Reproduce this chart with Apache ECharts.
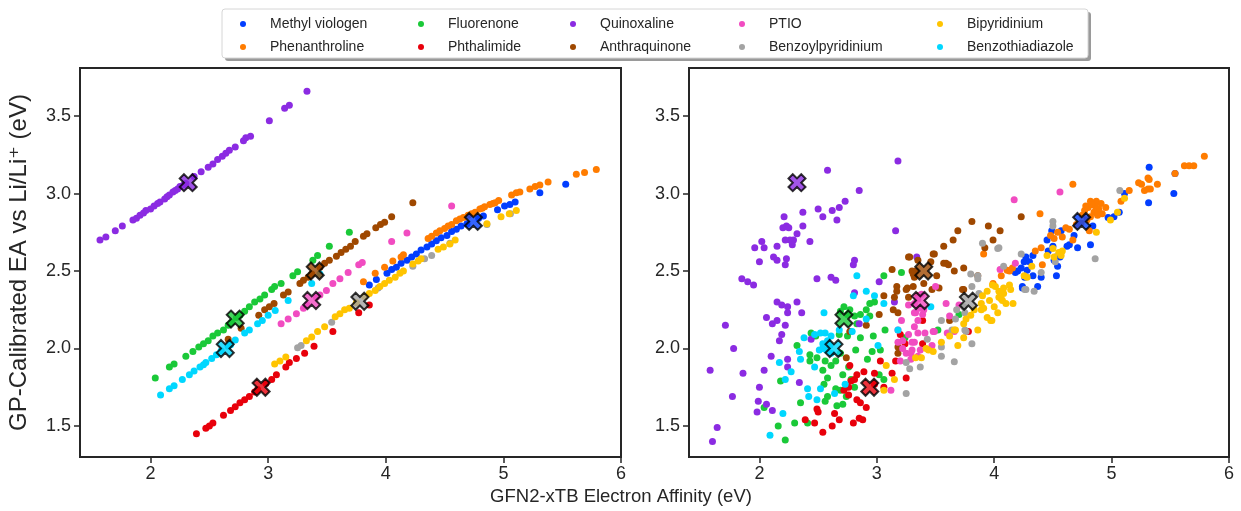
<!DOCTYPE html>
<html>
<head>
<meta charset="utf-8">
<script src="https://cdn.jsdelivr.net/npm/echarts@6/dist/echarts.min.js"></script>
<style>
  html, body { margin: 0; padding: 0; background: #fff; }
  #chart { width: 1241px; height: 511px; }
</style>
</head>
<body>
<div id="chart"></div>
<script>
// class names, legend order and colours (seaborn "bright")
const classNames = ['Methyl viologen', 'Phenanthroline', 'Fluorenone', 'Phthalimide', 'Quinoxaline',
  'Anthraquinone', 'PTIO', 'Benzoylpyridinium', 'Bipyridinium', 'Benzothiadiazole'];
const classColors = ['#023eff', '#ff7c00', '#1ac938', '#e8000b', '#8b2be2',
  '#9f4800', '#f14cc1', '#a3a3a3', '#ffc400', '#00d7ff'];

const xTicks = [2, 3, 4, 5, 6];
const yTicks = [1.5, 2.0, 2.5, 3.0, 3.5];

// ---- left panel: calibrated EA per class  [GFN2 EA, calibrated EA]
const methylFit = [[3.86,2.41],[3.92,2.445],[4.01,2.485],[4.05,2.51],[4.09,2.525],[4.13,2.55],[4.18,2.57],[4.22,2.59],[4.26,2.61],[4.30,2.635],[4.35,2.655],[4.39,2.675],[4.43,2.695],[4.47,2.715],[4.52,2.73],[4.56,2.755],[4.60,2.77],[4.64,2.79],[4.69,2.805],[4.79,2.84],[4.83,2.855],[4.95,2.895],[5.01,2.92],[5.055,2.93],[5.10,2.945],[5.31,3.005],[5.53,3.06]];
const phenFit = [[3.81,2.43],[3.91,2.485],[3.99,2.525],[4.06,2.565],[4.13,2.59],[4.15,2.605],[4.36,2.71],[4.39,2.725],[4.43,2.745],[4.46,2.76],[4.50,2.775],[4.53,2.79],[4.56,2.80],[4.60,2.825],[4.63,2.835],[4.66,2.845],[4.70,2.86],[4.73,2.87],[4.76,2.88],[4.80,2.90],[4.82,2.905],[4.84,2.915],[4.885,2.93],[4.91,2.935],[4.93,2.94],[4.96,2.955],[5.07,2.99],[5.11,3.005],[5.14,3.01],[5.225,3.03],[5.27,3.045],[5.31,3.055],[5.38,3.075],[5.62,3.125],[5.69,3.135],[5.79,3.155]];
const fluorFit = [[2.04,1.81],[2.16,1.88],[2.20,1.90],[2.30,1.95],[2.36,1.98],[2.41,2.01],[2.45,2.03],[2.49,2.05],[2.53,2.08],[2.57,2.10],[2.62,2.12],[2.66,2.15],[2.69,2.17],[2.73,2.20],[2.76,2.215],[2.80,2.24],[2.84,2.27],[2.885,2.30],[2.93,2.32],[2.97,2.345],[3.03,2.38],[3.055,2.40],[3.11,2.42],[3.21,2.47],[3.25,2.495],[3.38,2.57],[3.42,2.60],[3.52,2.66],[3.69,2.75]];
const phthFit = [[2.39,1.45],[2.47,1.485],[2.50,1.50],[2.53,1.52],[2.62,1.57],[2.68,1.60],[2.72,1.625],[2.76,1.65],[2.80,1.67],[2.84,1.69],[2.885,1.72],[2.91,1.735],[2.98,1.775],[3.03,1.80],[3.07,1.83],[3.15,1.88],[3.18,1.91],[3.24,1.935],[3.31,1.97],[3.39,2.015],[3.55,2.11],[3.77,2.23],[3.86,2.28]];
const quinoxFit = [[1.57,2.70],[1.62,2.72],[1.70,2.76],[1.76,2.79],[1.85,2.83],[1.88,2.84],[1.91,2.86],[1.94,2.875],[1.96,2.89],[2.00,2.90],[2.03,2.92],[2.06,2.935],[2.08,2.945],[2.12,2.965],[2.14,2.98],[2.16,2.99],[2.19,3.01],[2.21,3.02],[2.23,3.03],[2.25,3.045],[2.28,3.055],[2.30,3.065],[2.37,3.11],[2.43,3.14],[2.49,3.17],[2.53,3.19],[2.57,3.22],[2.61,3.24],[2.64,3.26],[2.67,3.28],[2.72,3.30],[2.79,3.34],[2.81,3.36],[2.85,3.37],[3.01,3.47],[3.14,3.55],[3.18,3.57],[3.33,3.66]];
const anthFit = [[2.66,2.06],[2.77,2.13],[2.92,2.215],[2.97,2.25],[3.01,2.27],[3.05,2.29],[3.13,2.345],[3.17,2.365],[3.27,2.42],[3.30,2.44],[3.34,2.46],[3.37,2.48],[3.44,2.525],[3.48,2.55],[3.52,2.57],[3.58,2.595],[3.62,2.62],[3.66,2.64],[3.70,2.66],[3.74,2.69],[3.81,2.725],[3.84,2.74],[3.915,2.78],[3.955,2.80],[3.99,2.815],[4.05,2.85],[4.23,2.94]];
const ptioFit = [[3.11,2.16],[3.17,2.19],[3.24,2.225],[3.30,2.26],[3.33,2.28],[3.41,2.33],[3.44,2.345],[3.495,2.375],[3.55,2.42],[3.61,2.45],[3.68,2.49],[3.77,2.54],[3.80,2.555],[4.05,2.69],[4.18,2.745],[4.56,2.92]];
const benzFit = [[3.25,2.005],[3.28,2.02],[3.54,2.17],[3.935,2.39],[4.23,2.53],[4.33,2.58],[4.39,2.60],[4.545,2.68],[4.86,2.80],[5.06,2.87]];
const bipyFit = [[3.055,1.90],[3.10,1.92],[3.15,1.945],[3.325,2.05],[3.37,2.075],[3.42,2.11],[3.48,2.14],[3.57,2.205],[3.61,2.225],[3.65,2.25],[3.69,2.26],[3.75,2.295],[3.82,2.335],[3.86,2.355],[3.91,2.375],[3.95,2.40],[3.99,2.42],[4.03,2.44],[4.08,2.46],[4.12,2.485],[4.15,2.50],[4.23,2.545],[4.275,2.565],[4.30,2.58],[4.445,2.64],[4.49,2.655],[4.545,2.675],[4.59,2.70],[4.86,2.805],[4.98,2.85],[5.05,2.87],[5.11,2.89]];
const thiadFit = [[2.085,1.70],[2.16,1.74],[2.20,1.76],[2.27,1.80],[2.33,1.83],[2.37,1.855],[2.42,1.88],[2.45,1.895],[2.47,1.91],[2.52,1.935],[2.56,1.96],[2.60,1.985],[2.66,2.015],[2.68,2.025],[2.72,2.055],[2.80,2.10],[2.84,2.12],[2.91,2.16],[2.95,2.18],[3.00,2.215],[3.06,2.245],[3.17,2.31],[3.37,2.42],[3.44,2.48]];

// ---- right panel: reference EA per class
const methylObs = [[5.32,3.17],[5.54,3.13],[5.53,3.00],[5.315,2.94],[5.11,3.00],[5.02,2.85],[4.97,2.845],[5.065,2.88],[4.84,2.79],[4.82,2.67],[4.71,2.65],[4.68,2.73],[4.64,2.67],[4.57,2.76],[4.49,2.76],[4.45,2.70],[4.50,2.66],[4.46,2.63],[4.62,2.66],[4.56,2.59],[4.525,2.59],[4.54,2.53],[4.51,2.57],[4.53,2.47],[4.40,2.46],[4.37,2.40],[4.24,2.40],[4.23,2.52],[4.255,2.56],[4.20,2.50],[4.18,2.49],[4.30,2.56],[4.33,2.60],[4.28,2.505],[4.33,2.47],[4.26,2.46],[4.27,2.59],[4.24,2.39]];
const phenObs = [[5.79,3.24],[5.62,3.18],[5.66,3.18],[5.70,3.18],[5.54,3.13],[5.23,3.07],[5.255,3.06],[5.31,3.10],[5.32,3.09],[5.31,3.03],[5.28,3.02],[5.33,3.03],[5.39,3.06],[5.15,3.02],[5.08,2.95],[4.67,3.06],[4.39,2.87],[4.78,2.92],[4.82,2.95],[4.87,2.95],[4.91,2.935],[4.95,2.91],[4.77,2.89],[4.85,2.88],[4.92,2.87],[4.82,2.85],[4.74,2.81],[4.70,2.80],[4.64,2.77],[4.61,2.78],[4.54,2.75],[4.48,2.73],[4.51,2.71],[4.67,2.70],[4.58,2.72],[4.81,2.76],[4.40,2.65],[4.35,2.63],[4.155,2.52],[4.11,2.505],[4.06,2.47],[3.91,2.61],[3.99,2.42],[4.41,2.54],[4.13,2.50],[4.80,2.91],[4.86,2.92],[4.89,2.90],[4.83,2.93],[4.75,2.86],[4.79,2.83],[4.88,2.86]];
const fluorObs = [[2.72,2.27],[2.69,2.24],[2.77,2.25],[2.75,2.22],[2.81,2.21],[2.86,2.22],[2.94,2.29],[2.98,2.30],[2.91,2.25],[2.94,2.21],[2.83,2.16],[2.44,2.10],[2.48,2.08],[2.68,2.09],[2.75,2.08],[2.86,2.07],[2.97,2.08],[3.07,2.12],[2.32,2.02],[2.43,1.96],[2.43,1.92],[2.49,1.94],[2.56,1.92],[2.61,1.89],[2.65,1.92],[2.69,1.97],[2.82,1.99],[3.03,1.99],[2.54,1.86],[2.58,1.81],[2.71,1.83],[2.76,1.88],[2.55,1.77],[2.65,1.74],[2.69,1.73],[2.74,1.69],[2.58,1.69],[2.56,1.66],[2.66,1.63],[2.71,1.64],[2.35,1.65],[2.04,1.62],[2.18,1.79],[2.16,1.50],[2.22,1.41],[2.30,1.52],[2.41,1.52],[2.96,1.98],[2.92,1.93],[2.78,1.80],[2.81,1.75],[3.02,1.83],[3.06,1.80],[3.06,2.47],[3.21,2.49],[3.70,2.22],[3.52,2.12],[3.24,2.07]];
const phthObs = [[2.91,1.62],[2.83,1.67],[2.86,1.65],[2.78,1.79],[2.83,1.83],[2.89,1.85],[2.98,1.84],[3.03,1.92],[3.06,1.75],[2.76,1.75],[2.77,1.89],[2.81,1.80],[2.76,1.70],[2.72,1.73],[2.64,1.58],[2.68,1.54],[2.62,1.50],[2.54,1.46],[2.49,1.61],[2.50,1.59],[2.39,1.54],[2.47,1.52],[2.80,1.52],[2.85,1.55],[2.88,1.54],[3.20,2.09],[3.24,2.03],[3.25,1.81],[3.16,1.92],[3.39,2.03],[2.98,1.77],[3.13,1.84],[3.39,2.18],[3.78,2.11]];
const quinoxObs = [[3.18,3.21],[2.58,3.15],[2.85,3.02],[2.73,2.95],[2.68,2.91],[2.62,2.89],[2.50,2.90],[2.37,2.88],[2.54,2.85],[2.66,2.83],[2.21,2.85],[2.20,2.78],[2.23,2.79],[2.25,2.78],[2.37,2.79],[2.32,2.74],[2.29,2.70],[2.26,2.70],[2.22,2.70],[2.28,2.67],[2.43,2.69],[2.15,2.66],[2.02,2.69],[1.96,2.65],[2.04,2.65],[2.00,2.56],[2.12,2.59],[2.15,2.57],[2.23,2.58],[2.22,2.54],[3.16,2.76],[2.81,2.57],[2.80,2.54],[1.85,2.45],[1.90,2.43],[1.95,2.41],[2.49,2.45],[2.61,2.46],[2.65,2.44],[3.02,2.43],[3.34,2.59],[2.15,2.30],[2.19,2.28],[2.24,2.27],[2.32,2.30],[2.81,2.36],[3.15,2.30],[2.24,2.23],[2.36,2.23],[2.06,2.20],[2.11,2.16],[2.15,2.18],[2.22,2.15],[2.19,2.09],[2.17,2.05],[1.71,2.15],[1.78,2.00],[2.10,1.95],[2.24,1.93],[2.24,1.88],[2.04,1.86],[1.86,1.84],[1.58,1.86],[2.34,1.78],[2.00,1.75],[1.77,1.69],[1.99,1.66],[2.06,1.64],[2.11,1.60],[1.98,1.59],[1.64,1.49],[1.60,1.40],[2.85,2.16],[2.44,2.06]];
const anthObs = [[3.28,2.59],[3.35,2.57],[3.46,2.56],[3.49,2.61],[3.57,2.66],[3.65,2.70],[3.69,2.76],[3.57,2.55],[3.61,2.54],[3.66,2.50],[3.51,2.47],[3.53,2.39],[3.40,2.42],[3.31,2.40],[3.32,2.46],[3.33,2.50],[3.30,2.50],[3.26,2.39],[3.17,2.40],[3.17,2.37],[3.13,2.51],[3.06,2.34],[3.27,2.33],[3.35,2.34],[3.15,2.33],[3.14,2.25],[3.18,2.23],[3.02,2.22],[2.91,2.15],[2.77,2.11],[2.74,1.94],[3.18,1.97],[3.18,2.01],[3.81,2.82],[3.95,2.79],[4.05,2.76],[3.99,2.70],[3.92,2.65],[4.23,2.85],[3.74,2.52],[3.86,2.47],[3.74,2.38],[3.48,2.61],[3.27,2.59],[3.31,2.48],[3.25,2.38],[3.47,2.38],[3.59,2.55],[3.73,2.38],[3.62,2.18]];
const ptioObs = [[3.32,2.29],[3.32,2.23],[3.40,2.25],[3.39,2.22],[3.35,2.18],[3.32,2.14],[3.35,2.10],[3.41,2.10],[3.49,2.11],[3.60,2.10],[3.59,2.29],[3.62,2.21],[3.66,2.11],[3.18,2.04],[3.22,2.05],[3.25,1.97],[3.30,1.99],[3.29,1.93],[3.35,1.95],[3.37,1.99],[3.47,2.02],[3.20,1.92],[3.12,1.73],[3.18,2.12],[3.32,2.04],[3.27,2.28],[3.33,2.23],[3.21,2.18],[3.27,2.09],[3.30,2.04],[3.22,2.00],[3.29,1.97],[3.48,2.11],[3.50,2.40],[4.05,2.51],[4.18,2.55],[4.17,2.96],[4.56,3.01],[3.70,2.28],[3.36,2.26],[3.38,2.35],[3.35,2.32]];
const benzObs = [[3.90,2.68],[4.03,2.645],[3.80,2.48],[3.86,2.47],[3.86,2.45],[3.81,2.40],[3.87,2.355],[3.74,2.27],[3.68,2.25],[3.67,2.19],[3.55,2.18],[3.64,2.12],[3.75,2.12],[3.43,2.06],[3.55,2.01],[3.55,1.95],[3.81,2.03],[3.66,1.915],[3.37,1.88],[3.28,1.87],[3.25,1.91],[3.25,1.71],[4.08,2.53],[4.34,2.37],[4.27,2.38],[4.86,2.58],[4.52,2.56],[4.50,2.82],[4.50,2.79],[4.04,2.65],[4.23,2.61],[4.40,2.49],[4.26,2.38],[5.07,3.02],[3.75,2.23],[3.76,2.11]];
const bipyObs = [[3.985,2.41],[4.04,2.37],[4.08,2.39],[4.13,2.41],[4.14,2.38],[4.04,2.33],[3.94,2.37],[3.90,2.34],[3.96,2.31],[4.00,2.27],[3.89,2.25],[3.83,2.25],[3.80,2.215],[3.76,2.19],[3.67,2.12],[3.66,2.12],[3.62,2.08],[3.55,2.04],[3.48,1.98],[3.38,1.94],[3.33,1.94],[3.44,1.99],[3.86,2.12],[3.74,2.07],[3.69,2.02],[3.89,2.29],[3.94,2.20],[4.03,2.23],[4.07,2.31],[4.10,2.29],[4.16,2.29],[3.98,2.18],[4.01,2.40],[4.08,2.355],[4.06,2.32],[3.91,2.26],[3.97,2.18],[3.74,2.16],[4.32,2.53],[4.255,2.47],[4.28,2.46],[4.45,2.60],[4.51,2.59],[4.57,2.60],[4.58,2.63],[4.55,2.62],[4.50,2.645],[4.87,2.75],[4.99,2.83],[5.05,2.88],[5.11,2.97],[3.08,1.89],[3.15,1.80],[3.06,1.73],[3.42,2.00]];
const thiadObs = [[2.80,2.34],[2.98,2.34],[3.06,2.29],[2.55,2.23],[2.91,2.19],[2.68,2.12],[2.79,2.11],[2.47,2.09],[2.52,2.10],[2.56,2.10],[2.61,2.08],[2.38,2.07],[2.54,2.03],[2.54,2.00],[2.51,1.99],[2.61,1.97],[2.34,1.98],[2.35,1.93],[2.47,1.88],[2.17,1.91],[2.27,1.85],[2.22,1.80],[2.41,1.74],[2.42,1.69],[2.52,1.74],[2.49,1.67],[2.64,1.71],[2.73,1.77],[3.01,2.02],[3.18,2.12],[3.46,2.27],[2.20,1.58],[2.09,1.44],[2.83,2.47],[2.91,2.37],[2.58,2.05],[2.60,2.02],[2.57,1.99]];

// ---- class centres (X markers), same place in both panels
const centerNames = ['Methyl viologen', 'Fluorenone', 'Phthalimide', 'Quinoxaline', 'Anthraquinone', 'PTIO', 'Benzoylpyridinium', 'Benzothiadiazole'];
const centerPoints = [[4.745,2.82],[2.72,2.19],[2.94,1.75],[2.32,3.07],[3.40,2.50],[3.37,2.31],[3.78,2.305],[2.635,2.00]];

const fitData = [methylFit, phenFit, fluorFit, phthFit, quinoxFit, anthFit, ptioFit, benzFit, bipyFit, thiadFit];
const obsData = [methylObs, phenObs, fluorObs, phthObs, quinoxObs, anthObs, ptioObs, benzObs, bipyObs, thiadObs];

const FONT = "'Liberation Sans', Arial, 'DejaVu Sans', sans-serif";
const INK = '#262626';
const X_PATH = 'path://M1,0 L2,1 L3,0 L4,1 L3,2 L4,3 L3,4 L2,3 L1,4 L0,3 L1,2 L0,1 Z';

const chart = echarts.init(document.getElementById('chart'), null, { renderer: 'canvas' });

function xAxisFor(idx) {
    return {
        type: 'value', gridIndex: idx, min: 1.4, max: 6,
        axisLine: { show: true, lineStyle: { color: INK, width: 2 } },
        axisTick: { show: true, length: 6, customValues: xTicks, lineStyle: { color: INK, width: 1.5 } },
        axisLabel: { customValues: xTicks, margin: 8, color: INK, fontSize: 18, fontFamily: FONT },
        splitLine: { show: false }
    };
}
function yAxisFor(idx, withName) {
    const ax = {
        type: 'value', gridIndex: idx, min: 1.3, max: 3.81,
        axisLine: { show: true, lineStyle: { color: INK, width: 2 } },
        axisTick: { show: true, length: 6, customValues: yTicks, lineStyle: { color: INK, width: 1.5 } },
        axisLabel: {
            customValues: yTicks, margin: 9, color: INK, fontSize: 18, fontFamily: FONT,
            formatter: v => Number(v).toFixed(1)
        },
        splitLine: { show: false }
    };
    if (withName) {
        ax.name = 'GP-Calibrated EA vs Li/Li\u207A (eV)';
        ax.nameLocation = 'middle';
        ax.nameGap = 49;
        ax.nameTextStyle = { color: INK, fontSize: 24, fontFamily: FONT };
    }
    return ax;
}

const series = [];
classNames.forEach((name, i) => {
    [0, 1].forEach(g => {
        series.push({
            type: 'scatter', name: name,
            xAxisIndex: g, yAxisIndex: g,
            data: g === 0 ? fitData[i] : obsData[i],
            symbol: 'circle', symbolSize: 7,
            itemStyle: { color: classColors[i], opacity: 1 },
            emphasis: { disabled: true },
            z: 2
        });
    });
});
[0, 1].forEach(g => {
    series.push({
        type: 'scatter', name: 'centres',
        xAxisIndex: g, yAxisIndex: g,
        symbol: X_PATH, symbolSize: 17,
        data: centerPoints.map((p, k) => ({
            value: p,
            itemStyle: { color: classColors[classNames.indexOf(centerNames[k])] }
        })),
        itemStyle: { borderColor: '#000', borderWidth: 2 },
        emphasis: { disabled: true },
        z: 5
    });
});

// legend laid out in 5 columns of 2, like the original
const legendCols = [
    ['Methyl viologen', 'Phenanthroline'],
    ['Fluorenone', 'Phthalimide'],
    ['Quinoxaline', 'Anthraquinone'],
    ['PTIO', 'Benzoylpyridinium'],
    ['Bipyridinium', 'Benzothiadiazole']
];
const legendLeft = [240, 418, 570, 739, 937];
const legends = legendCols.map((col, c) => ({
    data: col, orient: 'vertical', left: legendLeft[c], top: 16, padding: 0,
    itemWidth: 44, itemHeight: 6, itemGap: 7, icon: 'circle',
    textStyle: { color: INK, fontSize: 14, fontFamily: FONT, lineHeight: 16 },
    z: 10
}));

const option = {
    animation: false,
    backgroundColor: '#fff',
    legend: legends,
    grid: [
        { left: 80, top: 68, width: 541, height: 389, show: true, borderColor: INK, borderWidth: 2, containLabel: false },
        { left: 689, top: 68, width: 540, height: 389, show: true, borderColor: INK, borderWidth: 2, containLabel: false }
    ],
    xAxis: [xAxisFor(0), xAxisFor(1)],
    yAxis: [yAxisFor(0, true), yAxisFor(1, false)],
    graphic: [
        { type: 'rect', z: 1, shape: { x: 225, y: 12, width: 866, height: 49, r: 3 }, style: { fill: '#9a9a9a' } },
        { type: 'rect', z: 2, shape: { x: 222, y: 9, width: 866, height: 49, r: 3 }, style: { fill: '#fff', stroke: '#d6d6d6', lineWidth: 1 } },
        { type: 'text', z: 3, x: 621, y: 497,
          style: { text: 'GFN2-xTB Electron Affinity (eV)', fill: INK, fontSize: 18.5, fontFamily: FONT, align: 'center', verticalAlign: 'middle' } }
    ],
    series: series
};
chart.setOption(option);
</script>
</body>
</html>
